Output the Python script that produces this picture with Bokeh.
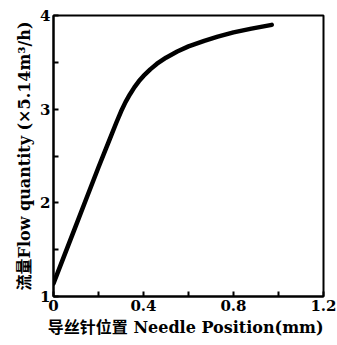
from bokeh.plotting import figure
from bokeh.models import FixedTicker
from bokeh.embed import file_html
from bokeh.resources import INLINE

# Data
needle_pos = [0.00, 0.05, 0.10, 0.15, 0.20, 0.25, 0.28, 0.30, 0.32, 0.34, 0.36, 0.38,
              0.40, 0.43, 0.46, 0.50, 0.55, 0.60, 0.67, 0.73, 0.80, 0.88, 0.97]
flow_qty   = [1.14, 1.45, 1.76, 2.07, 2.38, 2.68, 2.86, 2.975, 3.075, 3.16, 3.235, 3.30,
              3.355, 3.425, 3.485, 3.55, 3.615, 3.67, 3.73, 3.775, 3.82, 3.86, 3.90]

x_ticks = [0, 0.4, 0.8, 1.2]
x_minor = [0.2, 0.6, 1.0]
y_ticks = [1, 2, 3, 4]
y_minor = [1.5, 2.5, 3.5]

x_label = "导丝针位置  Needle Position(mm)"
y_label = "流量Flow quantity (×5.14m³/h)"

FONT = "'DejaVu Serif', 'Noto Sans CJK SC', serif"

p = figure(width=337, height=345, x_range=(0, 1.2), y_range=(1, 4),
           output_backend="svg", toolbar_location=None,
           min_border_left=53, min_border_top=15, min_border_right=14, min_border_bottom=49)

p.line(needle_pos, flow_qty, line_width=4.5, line_color="black", line_join="round", line_cap="round")

p.grid.visible = False
p.outline_line_color = "black"
p.outline_line_width = 2
p.background_fill_color = "white"

p.xaxis.ticker = FixedTicker(ticks=x_ticks, minor_ticks=x_minor)
p.yaxis.ticker = FixedTicker(ticks=y_ticks, minor_ticks=y_minor)
p.xaxis.major_label_overrides = {0: "0", 0.4: "0.4", 0.8: "0.8", 1.2: "1.2"}

for ax in (p.xaxis[0], p.yaxis[0]):
    ax.axis_line_color = "black"
    ax.axis_line_width = 2
    ax.major_tick_in = 5
    ax.major_tick_out = 0
    ax.minor_tick_in = 5
    ax.minor_tick_out = 0
    ax.major_tick_line_width = 2
    ax.minor_tick_line_width = 2
    ax.major_label_text_font = FONT
    ax.major_label_text_font_style = "bold"
    ax.major_label_text_font_size = "15px"
    ax.major_label_text_color = "black"
    ax.axis_label_text_font = FONT
    ax.axis_label_text_font_style = "bold"
    ax.axis_label_text_font_size = "16px"
    ax.axis_label_text_color = "black"

p.xaxis.axis_label = x_label
p.yaxis.axis_label = y_label
p.xaxis.major_label_standoff = 3
p.yaxis.major_label_standoff = 3
p.xaxis.axis_label_standoff = 4
p.yaxis.axis_label_standoff = 3

open("out.html", "w").write(file_html(p, INLINE))
